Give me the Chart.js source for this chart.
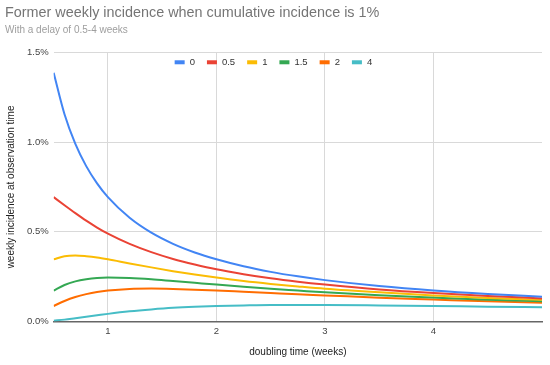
<!DOCTYPE html>
<html>
<head>
<meta charset="utf-8">
<script src="https://cdn.jsdelivr.net/npm/chart.js@4"></script>
<style>
  html, body { margin: 0; padding: 0; background: #fff; }
  #wrap { width: 550px; height: 365px; position: relative; }
</style>
</head>
<body>
<div id="wrap"><canvas id="c"></canvas></div>
<script>
// Doubling time (weeks) along the x axis
const doublingTimes = [0.5, 0.6, 0.7, 0.8, 0.9, 1.0, 1.2, 1.4, 1.6, 1.8, 2.0, 2.25, 2.5, 2.75, 3.0, 3.5, 4.0, 4.5, 5.0];
// Series labels (delay in weeks)
const delays = ['0', '0.5', '1', '1.5', '2', '4'];
// Weekly incidence (%) for each delay
const delay0   = [1.386, 1.155, 0.990, 0.866, 0.770, 0.693, 0.578, 0.495, 0.433, 0.385, 0.347, 0.308, 0.277, 0.252, 0.231, 0.198, 0.173, 0.154, 0.139];
const delay05  = [0.693, 0.648, 0.604, 0.562, 0.524, 0.490, 0.433, 0.387, 0.349, 0.318, 0.291, 0.264, 0.241, 0.222, 0.206, 0.179, 0.159, 0.143, 0.129];
const delay1   = [0.347, 0.364, 0.368, 0.364, 0.357, 0.347, 0.324, 0.302, 0.281, 0.262, 0.245, 0.226, 0.210, 0.196, 0.183, 0.163, 0.146, 0.132, 0.121];
const delay15  = [0.173, 0.204, 0.224, 0.236, 0.243, 0.245, 0.243, 0.236, 0.226, 0.216, 0.206, 0.194, 0.183, 0.173, 0.163, 0.147, 0.134, 0.122, 0.113];
const delay2   = [0.087, 0.115, 0.137, 0.153, 0.165, 0.173, 0.182, 0.184, 0.182, 0.178, 0.173, 0.166, 0.159, 0.152, 0.146, 0.133, 0.123, 0.113, 0.105];
const delay4   = [0.005, 0.011, 0.019, 0.027, 0.035, 0.043, 0.057, 0.068, 0.077, 0.083, 0.087, 0.090, 0.092, 0.092, 0.092, 0.090, 0.087, 0.083, 0.080];
const seriesValues = [delay0, delay05, delay1, delay15, delay2, delay4];
const xTickValues = [1, 2, 3, 4];
const yTickValues = [0, 0.5, 1.0, 1.5];

const colors = ['#4285F4', '#EA4335', '#FBBC04', '#34A853', '#FF6D01', '#46BDC6'];
const FONT = '"Liberation Sans", Arial, sans-serif';

const datasets = delays.map((lab, i) => ({
  label: lab,
  data: doublingTimes.map((x, j) => ({ x: x, y: seriesValues[i][j] })),
  borderColor: colors[i],
  backgroundColor: colors[i],
  borderWidth: 2,
  pointRadius: 0,
  pointHoverRadius: 0,
  tension: 0.4,
  cubicInterpolationMode: 'monotone',
  fill: false
}));

// Legend drawn inside the plot area, like the reference
const innerLegend = {
  id: 'innerLegend',
  afterDatasetsDraw(chart) {
    const ctx = chart.ctx;
    const area = chart.chartArea;
    const fontSize = 9.5;
    const boxW = 10, boxH = 4, gapBoxText = 5, gapItems = 12;
    ctx.save();
    ctx.font = fontSize + 'px ' + FONT;
    ctx.textBaseline = 'middle';
    ctx.textAlign = 'left';
    let x = area.left + 121;
    const y = area.top + 10;
    chart.data.datasets.forEach(ds => {
      ctx.fillStyle = ds.borderColor;
      ctx.fillRect(x, y - boxH / 2, boxW, boxH);
      x += boxW + gapBoxText;
      ctx.fillStyle = '#333';
      ctx.fillText(ds.label, x, y);
      x += ctx.measureText(ds.label).width + gapItems;
    });
    ctx.restore();
  }
};

new Chart(document.getElementById('c'), {
  type: 'line',
  data: { datasets: datasets },
  plugins: [innerLegend],
  options: {
    responsive: true,
    maintainAspectRatio: false,
    animation: false,
    events: [],
    layout: { padding: { left: 5, right: 8, top: 0, bottom: 7 } },
    plugins: {
      title: {
        display: true,
        text: 'Former weekly incidence when cumulative incidence is 1%',
        align: 'start',
        color: '#757575',
        font: { family: FONT, size: 14.4, weight: 'normal' },
        padding: { top: 4, bottom: 3 }
      },
      subtitle: {
        display: true,
        text: 'With a delay of 0.5-4 weeks',
        align: 'start',
        color: '#9e9e9e',
        font: { family: FONT, size: 10, weight: 'normal' },
        padding: { top: 0, bottom: 16 }
      },
      legend: { display: false },
      tooltip: { enabled: false }
    },
    scales: {
      x: {
        type: 'linear',
        min: 0.5,
        max: 5,
        afterBuildTicks(scale) { scale.ticks = xTickValues.map(v => ({ value: v })); },
        grid: { color: '#d9d9d9', drawTicks: false, lineWidth: 1 },
        border: { display: true, color: '#666', width: 1.5 },
        ticks: { color: '#444', font: { family: FONT, size: 9.5 }, padding: 4, maxRotation: 0, callback: v => String(v) },
        title: { display: true, text: 'doubling time (weeks)', color: '#222', font: { family: FONT, size: 10 }, padding: { top: 5, bottom: 0 } }
      },
      y: {
        min: 0,
        max: 1.5,
        afterBuildTicks(scale) { scale.ticks = yTickValues.map(v => ({ value: v })); },
        grid: { color: ctx => (ctx.tick && ctx.tick.value === 0 ? '#666' : '#d9d9d9'), drawTicks: false, lineWidth: 1 },
        border: { display: false },
        ticks: { color: '#444', font: { family: FONT, size: 9.5 }, padding: 5, callback: v => v.toFixed(1) + '%' },
        title: { display: true, text: 'weekly incidence at observation time', color: '#222', font: { family: FONT, size: 10 }, padding: { top: 0, bottom: 5 } }
      }
    }
  }
});
</script>
</body>
</html>
